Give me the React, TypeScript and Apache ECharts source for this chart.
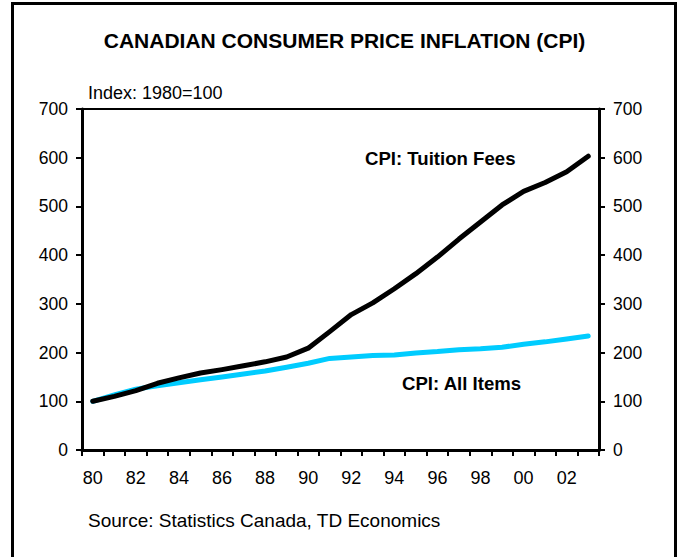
import React, { useEffect, useRef } from "react";
import * as echarts from "echarts";

const years = ["80", "81", "82", "83", "84", "85", "86", "87", "88", "89", "90", "91", "92", "93", "94", "95", "96", "97", "98", "99", "00", "01", "02", "03"];
const tuitionFees = [100, 110, 122, 137, 148, 158, 165, 173, 181, 191, 209, 243, 278, 302, 331, 362, 396, 433, 468, 503, 531, 549, 571, 603];
const allItems = [100, 113, 125, 132, 138, 144, 150, 156, 162, 170, 178, 188, 191, 194, 195, 199, 202, 206, 208, 211, 217, 222, 228, 234];
const yMin = 0;
const yMax = 700;
const yStep = 100;

const FONT = "'Liberation Sans', Arial, Helvetica, sans-serif";

export default function App() {
  const ref = useRef<HTMLDivElement>(null);
  useEffect(() => {
    const chart = echarts.init(ref.current!, null, { renderer: "svg" });
    const yAxisBase = (position: "left" | "right") => ({
      type: "value",
      min: yMin,
      max: yMax,
      interval: yStep,
      position,
      axisLine: { show: true, lineStyle: { color: "#000", width: 3 } },
      axisTick: { show: true, length: 6, lineStyle: { color: "#000", width: 2 } },
      axisLabel: { color: "#000", fontSize: 17.5, margin: 14, fontFamily: FONT },
      splitLine: { show: false },
    });
    chart.setOption({
      animation: false,
      backgroundColor: "#fff",
      textStyle: { fontFamily: FONT },
      grid: { left: 82, right: 79, top: 109, bottom: 107, show: true, borderColor: "#000", borderWidth: 2, containLabel: false },
      xAxis: {
        type: "category",
        data: years,
        boundaryGap: true,
        axisLine: { lineStyle: { color: "#000", width: 3 } },
        axisTick: { show: true, interval: 0, length: 6, lineStyle: { color: "#000", width: 2 } },
        axisLabel: { interval: 1, color: "#000", fontSize: 18, margin: 19, fontFamily: FONT },
      },
      yAxis: [yAxisBase("left"), yAxisBase("right")],
      series: [
        {
          name: "CPI: All Items",
          type: "line",
          data: allItems,
          symbol: "none",
          lineStyle: { color: "#00CCFF", width: 5, cap: "round", join: "round" },
          z: 2,
        },
        {
          name: "CPI: Tuition Fees",
          type: "line",
          data: tuitionFees,
          symbol: "none",
          lineStyle: { color: "#000", width: 5, cap: "round", join: "round" },
          z: 3,
        },
      ],
      graphic: [
        {
          type: "rect",
          shape: { x: 12.5, y: 3.5, width: 663, height: 570 },
          style: { fill: "none", stroke: "#000", lineWidth: 3 },
          silent: true,
        },
        {
          type: "text",
          x: 344.5,
          y: 40,
          style: {
            text: "CANADIAN CONSUMER PRICE INFLATION (CPI)",
            fill: "#000",
            font: `bold 21px ${FONT}`,
            textAlign: "center",
            textVerticalAlign: "middle",
          },
        },
        {
          type: "text",
          x: 88,
          y: 93,
          style: { text: "Index: 1980=100", fill: "#000", font: `18px ${FONT}`, textAlign: "left", textVerticalAlign: "middle" },
        },
        {
          type: "text",
          x: 365,
          y: 158,
          style: { text: "CPI: Tuition Fees", fill: "#000", font: `bold 18.6px ${FONT}`, textAlign: "left", textVerticalAlign: "middle" },
        },
        {
          type: "text",
          x: 402,
          y: 383,
          style: { text: "CPI: All Items", fill: "#000", font: `bold 18.6px ${FONT}`, textAlign: "left", textVerticalAlign: "middle" },
        },
        {
          type: "text",
          x: 88,
          y: 520,
          style: { text: "Source: Statistics Canada, TD Economics", fill: "#000", font: `19px ${FONT}`, textAlign: "left", textVerticalAlign: "middle" },
        },
      ],
    });
    return () => chart.dispose();
  }, []);
  return <div ref={ref} style={{ position: "fixed", left: 0, top: 0, width: 678, height: 557 }} />;
}
